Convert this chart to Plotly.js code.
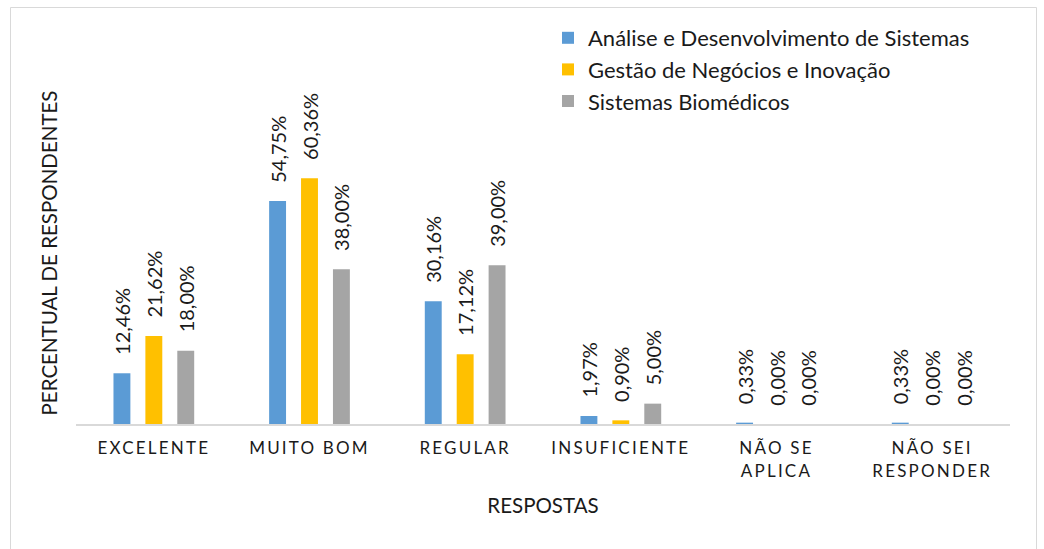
<!DOCTYPE html>
<html><head><meta charset="utf-8">
<script src="https://cdn.plot.ly/plotly-3.0.1.min.js"></script>
<style>
html,body{margin:0;padding:0;background:#fff;}
#chart{width:1044px;height:549px;}
.xtick text{letter-spacing:2.2px;}
</style></head><body><div id="chart"></div>
<script>
const categories = ['EXCELENTE', 'MUITO BOM', 'REGULAR', 'INSUFICIENTE', 'NÃO SE<br>APLICA', 'NÃO SEI<br>RESPONDER'];
const seriesNames = ['Análise e Desenvolvimento de Sistemas', 'Gestão de Negócios e Inovação', 'Sistemas Biomédicos'];
const adsValues = [12.46, 54.75, 30.16, 1.97, 0.33, 0.33];
const gniValues = [21.62, 60.36, 17.12, 0.90, 0.00, 0.00];
const sbValues  = [18.00, 38.00, 39.00, 5.00, 0.00, 0.00];
const xTitle = 'RESPOSTAS';
const yTitle = 'PERCENTUAL DE RESPONDENTES';

const colors = ['#5B9BD5', '#FFC000', '#A5A5A5'];
const FONT = 'Lato, "Open Sans", sans-serif';
const allValues = [adsValues, gniValues, sbValues];

const traces = allValues.map((vals, i) => ({
  type: 'bar',
  name: seriesNames[i],
  x: categories,
  y: vals,
  marker: {color: colors[i]},
  texttemplate: '\u00a0\u00a0\u00a0%{y:.2f}%',
  textposition: 'outside',
  textangle: -90,
  constraintext: 'none',
  cliponaxis: false,
  textfont: {family: FONT, size: 20, color: '#1a1a1a'},
  hoverinfo: 'skip'
}));

const L = 76, R = 34, T = 82, B = 125, W = 1044, H = 549;
const pw = W - L - R, ph = H - T - B;
const px2x = p => (p - L) / pw;
const py2y = p => (H - B - p) / ph;

const layout = {
  width: W, height: H,
  margin: {l: L, r: R, t: T, b: B, pad: 0},
  paper_bgcolor: '#ffffff',
  plot_bgcolor: '#ffffff',
  separators: ',.',
  barmode: 'group',
  bargap: 0.385,
  bargroupgap: 0.47,
  font: {family: FONT, color: '#1a1a1a'},
  showlegend: true,
  legend: {
    x: px2x(548), y: py2y(17), xanchor: 'left', yanchor: 'top',
    bgcolor: 'rgba(0,0,0,0)',
    font: {family: FONT, size: 22, color: '#1a1a1a'},
    traceorder: 'normal'
  },
  xaxis: {
    type: 'category',
    showline: true, linecolor: '#d9d9d9', linewidth: 2,
    showgrid: false, zeroline: false, ticks: '',
    tickfont: {family: FONT, size: 17, color: '#1a1a1a'},
    ticklabelstandoff: 8,
    title: {text: xTitle, font: {family: FONT, size: 20.5, color: '#1a1a1a'}, standoff: 19},
    fixedrange: true
  },
  yaxis: {
    range: [0, 84],
    showline: false, showgrid: false, zeroline: false,
    showticklabels: false, ticks: '',
    title: {text: yTitle, font: {family: FONT, size: 20.5, color: '#1a1a1a'}, standoff: 11},
    fixedrange: true
  },
  shapes: [{
    type: 'rect', xref: 'paper', yref: 'paper', layer: 'below',
    x0: px2x(10.5), x1: px2x(1036.5), y0: py2y(620), y1: py2y(7.5),
    line: {color: '#d9d9d9', width: 1}, fillcolor: 'rgba(0,0,0,0)'
  }]
};

Plotly.newPlot('chart', traces, layout, {displayModeBar: false, staticPlot: true});
</script></body></html>
